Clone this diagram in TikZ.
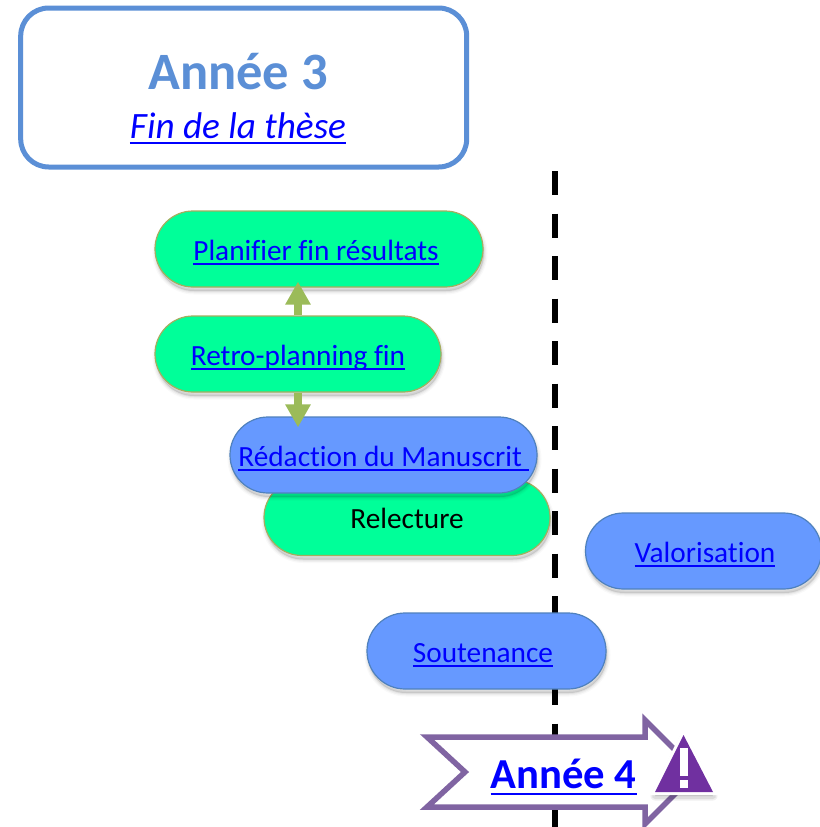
\documentclass[tikz,border=0pt]{standalone}
\usepackage{fontspec}
\setmainfont{Carlito}[Ligatures=NoCommon]
\usetikzlibrary{shapes.misc,arrows.meta,calc}
\definecolor{titleblue}{HTML}{5B8FD6}
\definecolor{boxgreen}{HTML}{00FF99}
\definecolor{edgegreen}{HTML}{A5AD5F}
\definecolor{boxblue}{HTML}{6699FF}
\definecolor{edgeblue}{HTML}{4F81BD}
\definecolor{arrowgreen}{HTML}{9BBB59}
\definecolor{bannerpurple}{HTML}{8064A2}
\definecolor{warnpurple}{HTML}{7030A0}
\newcommand\lnk[1]{\textcolor{blue}{\setbox0\hbox{#1}\rlap{\rule[-0.17em]{\wd0}{0.055em}}\box0}}
\tikzset{
  softshadow/.style={
    preaction={draw=black,fill=black,line width=7pt,opacity=.025,transform canvas={xshift=1pt,yshift=-4pt}},
    preaction={draw=black,fill=black,line width=4.5pt,opacity=.04,transform canvas={xshift=1pt,yshift=-4pt}},
    preaction={draw=black,fill=black,line width=2pt,opacity=.05,transform canvas={xshift=1pt,yshift=-4pt}}},
  pill/.style={shape=rounded rectangle,softshadow,line width=1.2pt,minimum height=76pt,inner sep=0pt,
    text height=22pt,text depth=0pt,font=\fontsize{29.3}{29.3}\selectfont},
  greenpill/.style={pill,draw=edgegreen,fill=boxgreen},
  bluepill/.style={pill,draw=edgeblue,fill=boxblue},
  linkarrow/.style={draw=arrowgreen,line width=7.5pt,-{Triangle[width=24pt,length=23pt]}},
  titlebox/.style={draw=titleblue,line width=5pt,rounded corners=28pt,fill=white,minimum width=446pt,minimum height=159pt},
  banner/.style={draw=bannerpurple,line width=5.5pt,fill=white,miter limit=10},
}
\begin{document}
\begin{tikzpicture}[x=1pt,y=-1pt]
\useasboundingbox (0,0) rectangle (819,827);
\fill[white] (0,0) rectangle (819,827);
\node[titlebox] (title) at (243.7,87.5) {};
\node[anchor=base,text=titleblue,font=\fontsize{52.5}{52.5}\selectfont\bfseries] (yr) at (238,89) {Année 3};
\node[anchor=base,font=\fontsize{37.2}{37.2}\selectfont\itshape] (sub) at (238,138) {\lnk{Fin de la thèse}};
\coordinate (dashtop) at (555.3,171);
\coordinate (dashbot) at (555.3,827);
\draw[line width=6pt,dash pattern=on 24pt off 18.5pt] (dashtop) -- (dashbot);
\node[greenpill,minimum width=286pt] (rel) at (407,517.5) {Relecture};
\node[bluepill,minimum width=307pt] (red) at (383.5,455) {\lnk{Rédaction du Manuscrit\ }};
\node[greenpill,minimum width=328pt] (plan) at (319,249) {\hspace*{-6pt}\lnk{Planifier fin résultats}};
\node[greenpill,minimum width=286pt] (retro) at (298,354) {\lnk{Retro-planning fin}};
\node[bluepill,minimum width=236pt] (val) at (703.5,551) {\hspace*{3pt}\lnk{Valorisation}};
\node[bluepill,minimum width=239pt] (sou) at (486.5,651) {\hspace*{-7pt}\lnk{Soutenance}};
\draw[linkarrow] (retro.north) -- ([xshift=-21pt,yshift=6pt]plan.south);
\draw[linkarrow] (retro.south) -- ([xshift=-85.5pt,yshift=-11pt]red.north);
\draw[banner] (427,737) -- (645,737) -- (645,720) -- (697,772) -- (645,824) -- (645,807) -- (427,807) -- (465,772) -- cycle;
\node[anchor=base,font=\fontsize{42.7}{42.7}\selectfont\bfseries] (yr4) at (563.5,788) {\lnk{Année 4}};
\path[fill=black,opacity=.06,draw=black,line width=9pt,line join=round,transform canvas={yshift=-4pt}] (683.5,735) -- (655,792) -- (713,792) -- cycle;
\path[fill=black,opacity=.08,draw=black,line width=6pt,line join=round,transform canvas={yshift=-4pt}] (683.5,735) -- (655,792) -- (713,792) -- cycle;
\draw[fill=white,draw=white,line width=6pt,line join=miter] (683.5,735) -- (655,792) -- (713,792) -- cycle;
\fill[warnpurple] (683.5,735) -- (655,792) -- (713,792) -- cycle;
\fill[white] (680,748) rectangle (688,776);
\fill[white] (680,780) rectangle (688,788);
\end{tikzpicture}
\end{document}
